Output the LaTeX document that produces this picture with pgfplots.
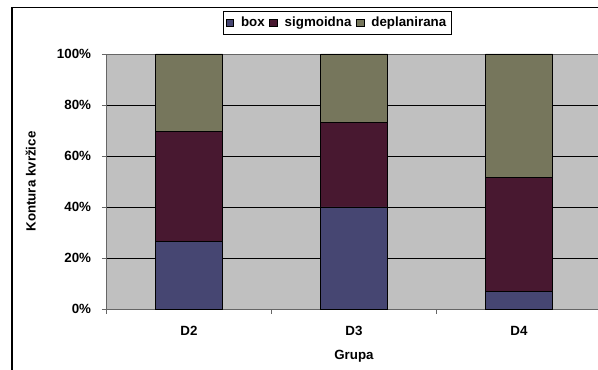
\documentclass[border=0pt]{standalone}
\usepackage{pgfplots}
\pgfplotsset{compat=1.18}
\usepackage{fontspec}
\setmainfont{Liberation Sans}
\definecolor{cbox}{RGB}{70,70,114}
\definecolor{csig}{RGB}{72,24,48}
\definecolor{cdep}{RGB}{118,118,92}
\definecolor{cbg}{RGB}{192,192,192}
\begin{document}
\begin{tikzpicture}
\path[use as bounding box] (0,0) rectangle (448.5pt,277.5pt);
\clip (0,0) rectangle (448.5pt,277.5pt);
\fill[white] (0,0) rectangle (448.5pt,277.5pt);
\draw[black, line width=0.8pt] (9pt,-10pt) rectangle (470pt,271.9pt);
\begin{axis}[
  at={(79.875pt,45.75pt)}, anchor=south west,
  scale only axis, width=371.25pt, height=191.25pt,
  ybar stacked, bar width=50.25pt,
  xmin=-0.5, xmax=2.5, ymin=0, ymax=100,
  axis background/.style={fill=cbg},
  axis line style={draw=gray!80!black},
  ymajorgrids, grid style={black, line width=0.6pt},
  ytick={0,20,40,60,80,100},
  yticklabel={\pgfmathprintnumber{\tick}\%},
  xtick={-0.5,0.5,1.5,2.5}, xticklabels={},
  extra x ticks={0,1,2}, extra x tick labels={D2,D3,D4},
  extra x tick style={major tick length=0pt, xticklabel style={anchor=center, yshift=-16.3pt}},
  tick align=outside, major tick length=3.5pt,
  tick style={draw=gray!80!black, line width=0.6pt},
  xtick pos=bottom, ytick pos=left,
  /pgf/number format/assume math mode=true,
  ticklabel style={font=\fontsize{10}{12}\selectfont\bfseries},
  yticklabel style={inner sep=0pt, anchor=east, xshift=-7.9pt},
  xlabel={Grupa}, ylabel={Kontura kvržice},
  label style={font=\fontsize{10}{12}\selectfont\bfseries},
  xlabel style={at={(axis description cs:0.5,-0.187)}, anchor=center},
  ylabel style={at={(axis description cs:-0.1531,0.5)}, anchor=center},
  legend style={at={(axis description cs:0.4663,1.1216)}, anchor=center,
    legend columns=3, draw=black, line width=0.6pt, fill=white,
    font=\fontsize{10}{12}\selectfont\bfseries,
    inner xsep=2pt, inner ysep=2.5pt, row sep=0pt,
    /tikz/every even column/.append style={column sep=1.5pt},
    /tikz/every odd column/.append style={column sep=3.5pt}},
  legend image code/.code={\draw[#1, line width=0.4pt] (0pt,-2.8pt) rectangle (5.6pt,2.8pt);},
]
\addplot[fill=cbox, draw=black, line width=0.6pt] coordinates {(0,26.4) (1,40.0) (2,6.9)};
\addplot[fill=csig, draw=black, line width=0.6pt] coordinates {(0,43.3) (1,33.3) (2,44.8)};
\addplot[fill=cdep, draw=black, line width=0.6pt] coordinates {(0,30.3) (1,26.7) (2,48.3)};
\legend{box,sigmoidna,deplanirana}
\end{axis}
\end{tikzpicture}
\end{document}
